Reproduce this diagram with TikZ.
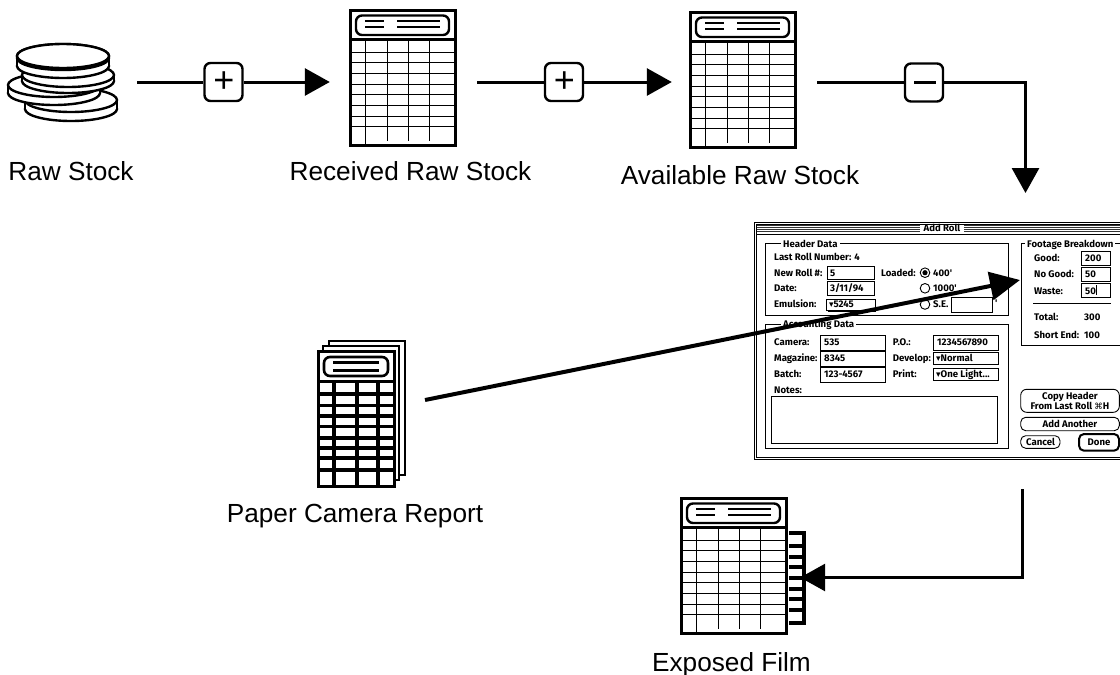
\documentclass[tikz,border=0pt]{standalone}
\usepackage{fontspec}
\setmainfont{Liberation Sans}
\newfontfamily\dlgfont{Fira Sans}
\newfontfamily\djv{DejaVu Sans}
\usetikzlibrary{arrows.meta}
\tikzset{
  x=1pt,y=-1pt,
  lbl/.style={font=\fontsize{26.2}{30}\selectfont,inner sep=0pt,anchor=base},
  opbox/.style={draw,fill=white,line width=2.4pt,rounded corners=6pt,minimum size=38pt,inner sep=0pt,font=\fontsize{36}{36}\selectfont},
  conn/.style={line width=3pt},
  arr/.style={line width=3pt,-{Triangle[length=25pt,width=27pt]}},
  dt/.style={font=\fontsize{9.6}{11}\dlgfont\bfseries,inner sep=0pt,anchor=base west,yshift=-3.4pt},
  dc/.style={font=\fontsize{9.6}{11}\dlgfont\bfseries,inner sep=0pt,anchor=base,yshift=-3.4pt},
  lg/.style={dt,fill=white,inner xsep=2pt,text height=7pt,text depth=1.5pt},
  fine/.style={line width=0.9pt},
  wfine/.style={line width=0.9pt,fill=white}
}
\newcommand{\sheetbase}[2]{%
  \begin{scope}[shift={(#1,#2)}]
    \draw[line width=3pt,fill=white] (350,10) rectangle (455,145);
    \draw[line width=2.4pt,rounded corners=6pt] (356,15.5) rectangle (449,35);
    \draw[line width=2.6pt] (365,21) -- (384,21) (365,27) -- (384,27) (397,21) -- (440,21) (397,27) -- (440,27);
    \draw[line width=2.8pt] (350,39.5) -- (455,39.5);
    \foreach \yy in {52.5,62.5,73.5,84.5,94.5,105.5,116.5,126.5} {\draw[line width=1.5pt] (350,\yy) -- (455,\yy);}
    \foreach \xx in {365.5,387.5,408.5,429.5} {\draw[line width=1.5pt] (\xx,39) -- (\xx,141);}
    \draw[line width=1.5pt] (365.5,141) -- (365.5,145);
  \end{scope}}
\newcommand{\disk}[4]{%
  \draw[line width=2.4pt,fill=white] (#1,#3) ellipse [x radius=46,y radius=12];
  \fill[white] (#1-46,#2) rectangle (#1+46,#3);
  \draw[line width=2.4pt] (#1-46,#2) -- (#1-46,#3) (#1+46,#2) -- (#1+46,#3);
  \draw[line width=2.4pt,fill=white] (#1,#2) ellipse [x radius=46,y radius=#4];}
\newcommand{\dlgtext}[4]{\node[dt] (#1) at (#2,#3) {#4};}
\newcommand{\dlgctr}[4]{\node[dc] (#1) at (#2,#3) {#4};}
\newcommand{\fldbox}[4]{\draw[wfine] (#1,#2) rectangle (#3,#4);}
\newcommand{\popup}[4]{\draw[wfine] (#1,#2) rectangle (#3,#4); \draw[line width=1.4pt] (#1+1,#4+0.5) -- (#3+0.5,#4+0.5) -- (#3+0.5,#2+1);}
\newcommand{\radio}[2]{\draw[wfine] (#1,#2) circle [radius=4.8];}
\begin{document}
\begin{tikzpicture}
\clip[use as bounding box] (0,0) rectangle (1120,675);
\fill[white] (0,0) rectangle (1120,675);

% raw stock disks
\disk{71}{100}{109}{12}
\disk{54}{85}{93}{12}
\disk{68}{75}{81}{12}
\disk{63}{58}{66}{12}
\disk{63}{56}{56}{12}
\node[inner sep=0pt,minimum width=109pt,minimum height=90pt] (stock) at (62.5,82) {};
\node[lbl] (stocklbl) at (71,180) {Raw Stock};

% sheets
\sheetbase{0}{0}
\node[inner sep=0pt,minimum width=105pt,minimum height=135pt] (recv) at (402.5,77.5) {};
\node[lbl] (recvlbl) at (410.5,180) {Received Raw Stock};
\sheetbase{340}{2}
\node[inner sep=0pt,minimum width=105pt,minimum height=135pt] (avail) at (742.5,79.5) {};
\node[lbl] (availlbl) at (740,184) {Available Raw Stock};

% exposed film
\sheetbase{331}{488}
\draw[line width=3.2pt] (789,533) -- (804,533) -- (804,623) -- (789,623);
\foreach \yy in {546,557,567,578,589,599,610} {\draw[line width=3.2pt] (789,\yy) -- (804,\yy);}
\node[inner sep=0pt,minimum width=119pt,minimum height=135pt] (film) at (740.5,565) {};
\node[lbl] (filmlbl) at (731.5,671) {Exposed Film};

% paper camera report
\draw[line width=2.8pt,fill=white] (329,341) rectangle (405,475);
\draw[line width=2.8pt,fill=white] (323,346) rectangle (399,480);
\draw[line width=3pt,fill=white] (318,351) rectangle (394,486);
\draw[line width=2.6pt,rounded corners=6pt] (324,357) rectangle (388,376);
\draw[line width=2.6pt] (333,362.5) -- (379,362.5) (333,370.5) -- (379,370.5);
\draw[line width=3pt] (318,381) -- (394,381);
\foreach \yy in {394,405.7,416,426.7,438,448,458,470} {\draw[line width=3.2pt] (318,\yy) -- (394,\yy);}
\foreach \xx in {334,357,378} {\draw[line width=3.2pt] (\xx,381) -- (\xx,486);}
\node[inner sep=0pt,minimum width=87pt,minimum height=145pt] (report) at (361,413.5) {};
\node[lbl] (reportlbl) at (355,522) {Paper Camera Report};

% dialog
\draw[line width=1pt,fill=white] (754,222) rectangle (1130,459);
\draw[line width=1pt] (756,224) rectangle (1130,457);
\draw[line width=1pt] (756,234) -- (1130,234);
\foreach \yy in {225.5,227.5,229.5,231.5} {\draw[line width=0.8pt,black!80] (757,\yy) -- (920,\yy) (964,\yy) -- (1120,\yy);}
\dlgctr{title}{942}{228}{Add Roll}

\draw[fine] (765.7,243.3) rectangle (1008,315.7);
\node[lg] (hdr) at (781,244) {Header Data};
\dlgtext{lastroll}{774}{256.7}{Last Roll Number: 4}
\dlgtext{newroll}{774}{272.7}{New Roll \#:}
\fldbox{827}{266}{874}{279}
\dlgtext{newrollv}{830}{272.7}{5}
\dlgtext{loaded}{881}{272.7}{Loaded:}
\radio{925}{272.7}
\fill (925,272.7) circle [radius=2.6];
\dlgtext{r400}{933}{272.7}{400'}
\dlgtext{date}{774}{288.3}{Date:}
\fldbox{827}{281.7}{874}{295}
\dlgtext{datev}{830}{288.3}{3/11/94}
\radio{925}{288.3}
\dlgtext{r1000}{933}{288.3}{1000'}
\dlgtext{emul}{774}{304.3}{Emulsion:}
\popup{826.7}{299}{875}{310.7}
\dlgtext{emulv}{829}{304.3}{{\djv\fontsize{9}{9}\selectfont ▾}5245}
\radio{925}{304.5}
\dlgtext{se}{933}{304.5}{S.E.}
\fldbox{951}{297}{992.7}{312}
\dlgtext{sep}{995}{303}{'}

\draw[fine] (765.7,324) rectangle (1008,448);
\node[lg] (acct) at (781,324) {Accounting Data};
\dlgtext{cam}{774}{342}{Camera:}
\fldbox{820.7}{335.3}{885}{350}
\dlgtext{camv}{824}{342}{535}
\dlgtext{po}{892.7}{342}{P.O.:}
\fldbox{933}{335.3}{998}{350}
\dlgtext{pov}{937}{342}{1234567890}
\dlgtext{mag}{774}{358.3}{Magazine:}
\fldbox{820.7}{351.3}{885}{366}
\dlgtext{magv}{824}{358.3}{8345}
\dlgtext{dev}{892.7}{358.3}{Develop:}
\popup{933}{352.3}{998}{364}
\dlgtext{devv}{936}{358.3}{{\djv\fontsize{9}{9}\selectfont ▾}Normal}
\dlgtext{batch}{774}{374.3}{Batch:}
\fldbox{820.7}{367.3}{885}{382}
\dlgtext{batchv}{824}{374.3}{123-4567}
\dlgtext{print}{892.7}{374.3}{Print:}
\popup{933}{368.3}{998}{380}
\dlgtext{printv}{936}{374.3}{{\djv\fontsize{9}{9}\selectfont ▾}One Light...}
\dlgtext{notes}{774}{390}{Notes:}
\draw[fine] (771,396.7) rectangle (997.7,443.3);

\draw[fine] (1021.7,243.3) rectangle (1122,345.7);
\node[lg] (foot) at (1025,244) {Footage Breakdown};
\dlgtext{good}{1034}{257.7}{Good:}
\fldbox{1081.7}{251.3}{1110.7}{265.3}
\dlgtext{goodv}{1085}{258}{200}
\dlgtext{nogood}{1034}{274.3}{No Good:}
\fldbox{1081.7}{267.3}{1110.7}{281.3}
\dlgtext{nogoodv}{1085}{274.3}{50}
\dlgtext{waste}{1034}{290.7}{Waste:}
\fldbox{1081.7}{283.3}{1110.7}{297.3}
\dlgtext{wastev}{1085}{290.7}{50}
\draw[line width=0.8pt] (1096,285) -- (1096,295);
\draw[line width=1.2pt] (1033.3,303.3) -- (1110.7,303.3);
\dlgtext{total}{1034}{316.7}{Total:}
\dlgtext{totalv}{1084}{316.7}{300}
\dlgtext{short}{1034}{334.7}{Short End:}
\dlgtext{shortv}{1084}{334.7}{100}
\draw[fine,rounded corners=6pt] (1020.7,389.3) rectangle (1119.3,412.3);
\dlgctr{copya}{1070}{395.7}{Copy Header}
\dlgctr{copyb}{1070}{406}{From Last Roll {\djv\mdseries\fontsize{8.5}{9}\selectfont ⌘}H}
\draw[fine,rounded corners=5pt] (1020.7,417.3) rectangle (1119.3,430.7);
\dlgctr{addan}{1070}{424}{Add Another}
\draw[fine,rounded corners=5pt] (1020.7,435.7) rectangle (1060,448.3);
\dlgctr{cancel}{1040.5}{442}{Cancel}
\draw[line width=2pt,rounded corners=5pt] (1079,434) rectangle (1119,450.7);
\dlgctr{done}{1099}{442}{Done}

% connector nodes
\node[opbox] (plus1) at (223.5,82) {\raisebox{-3pt}{\kern1pt+}};
\node[opbox] (plus2) at (564,82) {\raisebox{-3pt}{\kern1pt+}};
\node[opbox] (minus) at (924,82.5) {};
\draw[line width=2.8pt] (914,82.5) -- (936,82.5);
\coordinate (corner1) at (1025.5,82.5);
\coordinate (dlgin) at (1025.5,193);
\coordinate (dlgout) at (1022.5,489);
\coordinate (corner2) at (1022.5,577.5);
\coordinate (reportout) at (425,400);
\coordinate (footin) at (1020,280);

\draw[conn,shorten <=20pt] (stock.east |- plus1) -- (plus1);
\draw[arr,shorten >=20pt] (plus1) -- (recv.west |- plus1);
\draw[conn,shorten <=22pt] (recv.east |- plus2) -- (plus2);
\draw[arr,shorten >=18pt] (plus2) -- (avail.west |- plus2);
\draw[conn,shorten <=22pt] (avail.east |- minus) -- (minus);
\draw[arr] (minus) -- (corner1) -- (dlgin);
\draw[arr] (dlgout) -- (corner2) -- (film.east |- corner2);
\draw[line width=4pt,-{Triangle[length=30pt,width=28pt]}] (reportout) -- (footin);
\end{tikzpicture}
\end{document}
